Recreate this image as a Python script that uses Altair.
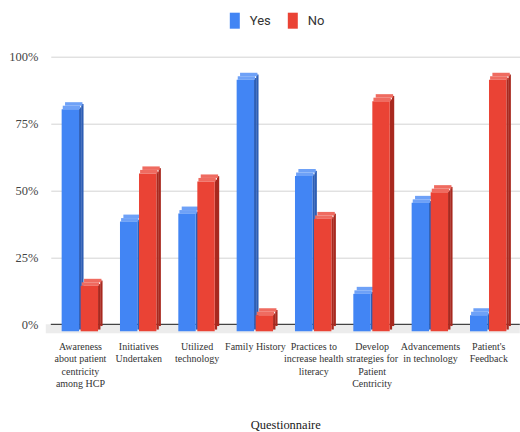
import json
import altair as alt
import pandas as pd

categories = [
    ["Awareness", "about patient", "centricity", "among HCP"],
    ["Initiatives", "Undertaken"],
    ["Utilized", "technology"],
    ["Family History"],
    ["Practices to", "increase health", "literacy"],
    ["Develop", "strategies for", "Patient", "Centricity"],
    ["Advancements", "in technology"],
    ["Patient's", "Feedback"],
]
yes_values = [0.83, 0.41, 0.44, 0.94, 0.58, 0.14, 0.48, 0.06]
no_values = [0.17, 0.59, 0.56, 0.06, 0.42, 0.86, 0.52, 0.94]
series_names = ["Yes", "No"]
y_ticks = [0, 0.25, 0.5, 0.75, 1.0]

BLUE, RED = "#4285F4", "#EA4335"
BLUE_DARK, RED_DARK = "#2D5EB5", "#A8291F"
BLUE_LIGHT, RED_LIGHT = "#6EA1F7", "#EF6B60"
SERIF = "Liberation Serif"

rows = []
for i in range(len(categories)):
    rows.append({"idx": i, "series": "Yes", "value": yes_values[i]})
    rows.append({"idx": i, "series": "No", "value": no_values[i]})
df = pd.DataFrame(rows)

n = len(categories)
xmax = n + 0.04
label_expr = json.dumps(categories) + "[floor(datum.value)]"

base = alt.Chart(df).transform_calculate(
    xs="datum.idx + 0.5 + (datum.series == 'Yes' ? -0.314 : 0.012)"
).transform_calculate(
    xe="datum.xs + 0.298"
)

xscale = alt.Scale(domain=[0, xmax], nice=False, zero=False)
yscale = alt.Scale(domain=[0, 1], nice=False)

x_axis = alt.Axis(
    values=[i + 0.5 for i in range(n)],
    labelExpr=label_expr,
    grid=False, ticks=False, domain=False,
    labelFont=SERIF, labelFontSize=10, labelColor="#333",
    labelLineHeight=12.4, labelPadding=17, labelOverlap=False,
    labelBound=False, labelFlush=False,
    title="Questionnaire", titleFont=SERIF, titleFontSize=12.5,
    titleFontWeight="normal", titleColor="#222", titleY=104,
    titleBaseline="alphabetic",
)
y_axis = alt.Axis(
    values=y_ticks, format="%", grid=True, gridColor="#d3d3d3",
    ticks=False, domain=False, labelFont=SERIF,
    labelFontSize=12.5, labelColor="#444", labelPadding=13, title=None,
)

floor = alt.Chart(pd.DataFrame({"a": [0]})).mark_rect(
    color="#ececec", xOffset=-5, y2Offset=9
).encode(
    x=alt.X("a:Q", scale=xscale, axis=x_axis),
    x2=alt.datum(xmax),
    y=alt.Y("a:Q", scale=yscale, axis=y_axis),
    y2=alt.datum(0),
)

zero = alt.Chart(pd.DataFrame({"a": [0]})).mark_rule(
    color="#444", strokeWidth=1.2
).encode(
    x=alt.datum(0), x2=alt.datum(xmax), y=alt.datum(0)
)

dark = alt.condition("datum.series == 'Yes'", alt.value(BLUE_DARK), alt.value(RED_DARK))
light = alt.condition("datum.series == 'Yes'", alt.value(BLUE_LIGHT), alt.value(RED_LIGHT))

side_a = base.mark_rect(x2Offset=2.4, yOffset=5.25, y2Offset=5.25).encode(
    x=alt.X("xe:Q", scale=xscale), x2="xe:Q",
    y=alt.Y("value:Q", scale=yscale), y2=alt.datum(0), color=dark,
)
side_b = base.mark_rect(xOffset=2.2, x2Offset=4.5, yOffset=1.75, y2Offset=1.75).encode(
    x=alt.X("xe:Q", scale=xscale), x2="xe:Q",
    y=alt.Y("value:Q", scale=yscale), y2=alt.datum(0), color=dark,
)
top_a = base.mark_rect(xOffset=1.1, x2Offset=1.1, yOffset=3.5, y2Offset=7).encode(
    x=alt.X("xs:Q", scale=xscale), x2="xe:Q",
    y=alt.Y("value:Q", scale=yscale), y2="value:Q", color=light,
)
top_b = base.mark_rect(xOffset=3.4, x2Offset=3.4, yOffset=0, y2Offset=3.5).encode(
    x=alt.X("xs:Q", scale=xscale), x2="xe:Q",
    y=alt.Y("value:Q", scale=yscale), y2="value:Q", color=light,
)

front = base.mark_rect(yOffset=7, y2Offset=7).encode(
    x=alt.X("xs:Q", scale=xscale),
    x2="xe:Q",
    y=alt.Y("value:Q", scale=yscale),
    y2=alt.datum(0),
    color=alt.Color(
        "series:N",
        scale=alt.Scale(domain=series_names, range=[BLUE, RED]),
        legend=alt.Legend(
            title=None, orient="none", legendX=176, legendY=-44,
            direction="horizontal",
            symbolType="M-0.625,-1 L0.625,-1 L0.625,1 L-0.625,1 Z",
            symbolSize=256, symbolStrokeWidth=0, symbolOpacity=1,
            labelFont="Roboto", labelFontSize=13, labelColor="#333",
            labelOffset=7, columnPadding=14,
        ),
    ),
)

chart = alt.layer(floor, zero, side_a, side_b, top_a, top_b, front).properties(
    width=469, height=267.6,
    padding={"left": 50.8, "top": 56.7, "right": 0, "bottom": 107.7},
    autosize=alt.AutoSizeParams(type="none"),
).configure_view(stroke=None)

chart.save("out.html", embed_options={"renderer": "svg", "actions": False})
